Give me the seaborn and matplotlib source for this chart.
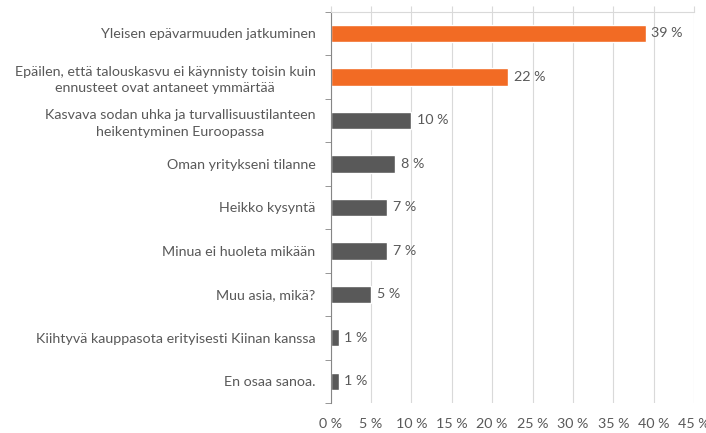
import matplotlib
matplotlib.use("Agg")
from matplotlib import pyplot as plt
from matplotlib.ticker import MultipleLocator, FixedLocator
import numpy as np
import pandas
import seaborn as sns

# Data
categories = [
    "Yleisen epävarmuuden jatkuminen",
    "Epäilen, että talouskasvu ei käynnisty toisin kuin\nennusteet ovat antaneet ymmärtää",
    "Kasvava sodan uhka ja turvallisuustilanteen\nheikentyminen Euroopassa",
    "Oman yritykseni tilanne",
    "Heikko kysyntä",
    "Minua ei huoleta mikään",
    "Muu asia, mikä?",
    "Kiihtyvä kauppasota erityisesti Kiinan kanssa",
    "En osaa sanoa.",
]
values = [39, 22, 10, 8, 7, 7, 5, 1, 1]
highlight = [True, True, False, False, False, False, False, False, False]

ORANGE = "#F26B24"
GREY = "#595959"
TEXT = "#595959"
FS = 10.3

sns.set_style("white")
plt.rcParams['font.family'] = ['Lato', 'DejaVu Sans']

df = pandas.DataFrame({"category": categories, "value": values})
palette = [ORANGE if h else GREY for h in highlight]

fig = plt.figure(figsize=(7.06, 4.33), dpi=100)
ax = fig.add_axes([0.4684, 0.0693, 0.983 - 0.4684, 0.973 - 0.0693])
sns.barplot(data=df, y="category", x="value", hue="category", palette=palette,
            legend=False, width=0.4, ax=ax, saturation=1)

ax.set_xlim(0, 45)
ax.set_ylim(len(categories) - 0.5, -0.5)
ax.xaxis.set_major_locator(MultipleLocator(5))
ax.set_xticklabels([f"{int(t)} %" for t in ax.get_xticks()])
ax.grid(axis="x", color="#D9D9D9", linewidth=0.8)
ax.set_axisbelow(True)

# value labels
for i, v in enumerate(values):
    ax.text(v + 0.7, i, f"{v} %", va="center", ha="left", fontsize=FS, color=TEXT)

# spines: x line on top with outward ticks, category line on the left
for s in ["right", "bottom"]:
    ax.spines[s].set_visible(False)
ax.spines["top"].set_color("#D9D9D9")
ax.spines["left"].set_color("#868686")
ax.tick_params(axis="x", top=True, bottom=False, labeltop=False, labelbottom=True,
               direction="out", length=4, color="#D9D9D9", labelsize=FS,
               labelcolor=TEXT, pad=7)
ax.yaxis.set_minor_locator(FixedLocator(np.arange(-0.5, len(categories), 1)))
ax.tick_params(axis="y", which="minor", left=True, direction="out", length=4, color="#868686")
ax.tick_params(axis="y", which="major", left=False, length=0, labelsize=FS, labelcolor=TEXT, pad=11)
for lbl in ax.get_yticklabels():
    lbl.set_multialignment("center")
    lbl.set_linespacing(1.45)

ax.set_xlabel("")
ax.set_ylabel("")

fig.savefig("out.png", dpi=100)
